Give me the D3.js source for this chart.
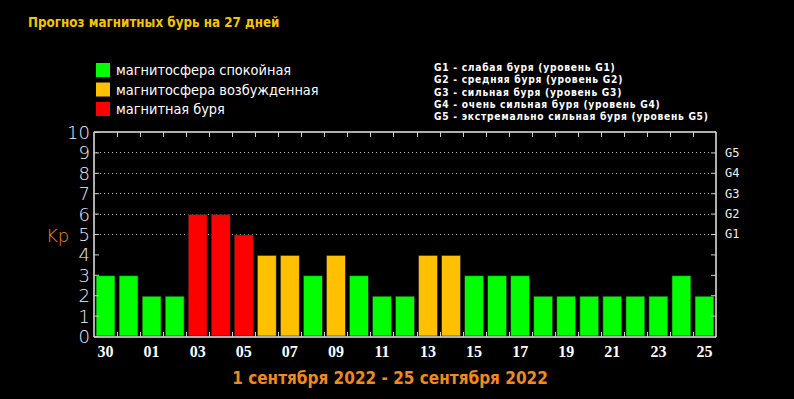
<!DOCTYPE html>
<html>
<head>
<meta charset="utf-8">
<script src="https://cdn.jsdelivr.net/npm/d3@7"></script>
<style>
  body { margin: 0; background: #000; }
  svg { display: block; }
</style>
</head>
<body>
<div class="kpChart"></div>
<script>
// Data
var days = ["30", "31", "01", "02", "03", "04", "05", "06", "07", "08", "09", "10", "11", "12",
            "13", "14", "15", "16", "17", "18", "19", "20", "21", "22", "23", "24", "25"];
var kpValues = [3, 3, 2, 2, 6, 6, 5, 4, 4, 3, 4, 3, 2, 2, 4, 4, 3, 3, 3, 2, 2, 2, 2, 2, 2, 3, 2];
var gLevels = ["G1", "G2", "G3", "G4", "G5"];
var gKp = [5, 6, 7, 8, 9];
var legendItems = ["магнитосфера спокойная", "магнитосфера возбужденная", "магнитная буря"];
var gLegend = [
    "G1 - слабая буря (уровень G1)",
    "G2 - средняя буря (уровень G2)",
    "G3 - сильная буря (уровень G3)",
    "G4 - очень сильная буря (уровень G4)",
    "G5 - экстремально сильная буря (уровень G5)"
];

var width = 794,
    height = 399,
    margin = { top: 132, right: 78, bottom: 62, left: 94 };

var colorQuiet = "#00ff00",
    colorActive = "#ffc000",
    colorStorm = "#ff0000";

function kpColor(v) {
    if (v >= 5) return colorStorm;
    if (v >= 4) return colorActive;
    return colorQuiet;
}

var svg = d3.select(".kpChart")
    .append("svg")
    .attr("width", width)
    .attr("height", height)
    .style("background", "#000");

// scales
var x = d3.scaleBand()
    .domain(d3.range(days.length))
    .range([margin.left, width - margin.right])
    .paddingInner(0.18)
    .paddingOuter(0.09);

var y = d3.scaleLinear()
    .domain([0, 10])
    .range([height - margin.bottom - 1, margin.top]);

var step = x.step();
var x0 = margin.left, x1 = width - margin.right;
var yTop = y(10), yBot = y(0) + 1;

// title
svg.append("text")
    .attr("x", 28)
    .attr("y", 27)
    .attr("fill", "#f5c400")
    .style("font", "bold 13.3px 'DejaVu Sans Condensed', 'DejaVu Sans', sans-serif")
    .text("Прогноз магнитных бурь на 27 дней");

// legend colors
var legend = svg.append("g");
legend.selectAll("rect")
    .data([colorQuiet, colorActive, colorStorm])
    .enter().append("rect")
    .attr("x", 96)
    .attr("y", function (d, i) { return 63 + i * 19.5; })
    .attr("width", 14)
    .attr("height", 14)
    .attr("fill", function (d) { return d; });

legend.selectAll("text")
    .data(legendItems)
    .enter().append("text")
    .attr("x", 116)
    .attr("y", function (d, i) { return 75 + i * 19.5; })
    .attr("fill", "#fff")
    .style("font", "14.4px 'DejaVu Sans Condensed', 'DejaVu Sans', sans-serif")
    .text(function (d) { return d; });

// G legend
svg.append("g").selectAll("text")
    .data(gLegend)
    .enter().append("text")
    .attr("x", 434)
    .attr("y", function (d, i) { return 71 + i * 12.3; })
    .attr("fill", "#fff")
    .style("font", "bold 10.2px 'DejaVu Sans Condensed', 'DejaVu Sans', sans-serif")
    .style("letter-spacing", "0.72px")
    .text(function (d) { return d; });

// dotted grid for storm levels
svg.append("g").selectAll("line")
    .data(gKp)
    .enter().append("line")
    .attr("x1", x0 + 2)
    .attr("x2", x1 - 4)
    .attr("y1", function (d) { return Math.round(y(d)) + 0.5; })
    .attr("y2", function (d) { return Math.round(y(d)) + 0.5; })
    .attr("stroke", "#bbb")
    .attr("stroke-width", 1)
    .attr("stroke-dasharray", "1,3");

// bars
svg.append("g").selectAll("rect")
    .data(kpValues)
    .enter().append("rect")
    .attr("x", function (d, i) { return x(i); })
    .attr("y", function (d) { return y(d) + 1; })
    .attr("width", x.bandwidth())
    .attr("height", function (d) { return y(0) - y(d) - 1; })
    .attr("fill", function (d) { return kpColor(d); })
    .attr("stroke", "#222")
    .attr("stroke-width", 0.6);

// frame
var axisColor = "#e8e8e8";
var frame = svg.append("g")
    .attr("stroke", axisColor)
    .attr("stroke-width", 1.5);
frame.append("line").attr("x1", x0).attr("x2", x1).attr("y1", yTop).attr("y2", yTop);
frame.append("line").attr("x1", x0).attr("x2", x1).attr("y1", yBot).attr("y2", yBot);
frame.append("line").attr("x1", x0).attr("x2", x0).attr("y1", yTop).attr("y2", yBot);
frame.append("line").attr("x1", x1).attr("x2", x1).attr("y1", yTop).attr("y2", yBot);

// slot boundary ticks (top & bottom)
var bounds = d3.range(1, days.length).map(function (i) { return x0 + i * step; });
var tk = svg.append("g").attr("stroke", "#ccc").attr("stroke-width", 1);
tk.selectAll(".tt").data(bounds).enter().append("line")
    .attr("x1", function (d) { return Math.round(d) + 0.5; })
    .attr("x2", function (d) { return Math.round(d) + 0.5; })
    .attr("y1", yTop).attr("y2", yTop + 5);
tk.selectAll(".tb").data(bounds).enter().append("line")
    .attr("x1", function (d) { return Math.round(d) + 0.5; })
    .attr("x2", function (d) { return Math.round(d) + 0.5; })
    .attr("y1", yBot).attr("y2", yBot - 5);

// left axis
var yAxisL = d3.axisLeft(y)
    .tickValues(d3.range(0, 11))
    .tickSize(-5)
    .tickPadding(8)
    .tickFormat(d3.format("d"));
var gl = svg.append("g")
    .attr("transform", "translate(" + x0 + ",0)")
    .call(yAxisL);
gl.select(".domain").remove();
gl.selectAll(".tick line").attr("stroke", "#ccc");
gl.selectAll(".tick text")
    .attr("fill", "#f0f0f0")
    .attr("x", -4)
    .attr("dy", "0.36em")
    .style("font", "18px 'DejaVu Sans', sans-serif")
    .style("font-weight", "200");

// right axis with G levels
var gMap = {};
gKp.forEach(function (k, i) { gMap[k] = gLevels[i]; });
var yAxisR = d3.axisRight(y)
    .tickValues(d3.range(1, 10))
    .tickSize(-5)
    .tickPadding(9)
    .tickFormat(function (d) { return gMap[d] || ""; });
var gr = svg.append("g")
    .attr("transform", "translate(" + x1 + ",0)")
    .call(yAxisR);
gr.select(".domain").remove();
gr.selectAll(".tick line").attr("stroke", "#ccc");
gr.selectAll(".tick text")
    .attr("fill", "#f0f0f0")
    .style("font", "12px 'DejaVu Sans Mono', monospace");

// Kp label
svg.append("text")
    .attr("x", 46)
    .attr("y", 242)
    .attr("fill", "#f08a1e")
    .style("font", "18px 'DejaVu Sans', sans-serif")
    .style("font-weight", "200")
    .text("Kp");

// bottom day labels
var xAxis = d3.axisBottom(x)
    .tickValues(d3.range(0, days.length, 2))
    .tickSize(0)
    .tickPadding(9)
    .tickFormat(function (i) { return days[i]; });
var gb = svg.append("g")
    .attr("transform", "translate(0," + yBot + ")")
    .call(xAxis);
gb.select(".domain").remove();
gb.selectAll(".tick text")
    .attr("fill", "#fff")
    .style("font", "bold 16px 'Liberation Serif', serif");

// date range
svg.append("text")
    .attr("x", 390)
    .attr("y", 384)
    .attr("text-anchor", "middle")
    .attr("fill", "#f08a1e")
    .style("font", "bold 17px 'DejaVu Sans Condensed', 'Liberation Sans Narrow', sans-serif")
    .text("1 сентября 2022 - 25 сентября 2022");
</script>
</body>
</html>
